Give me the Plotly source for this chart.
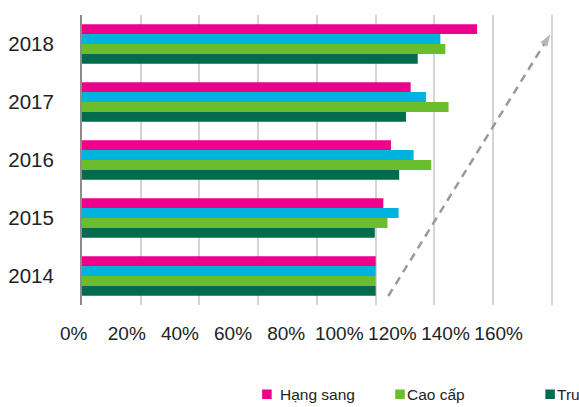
import plotly.graph_objects as go

years = ["2014", "2015", "2016", "2017", "2018"]
hang_sang = [100, 102.6, 105.2, 111.9, 134.5]
binh_dan = [100, 107.8, 112.9, 117.1, 122.0]
cao_cap = [100, 104.0, 118.9, 124.8, 123.7]
trung_cap = [100, 99.7, 108.0, 110.3, 114.3]
x_ticks = [0, 20, 40, 60, 80, 100, 120, 140, 160]
x_tick_labels = ["0%", "20%", "40%", "60%", "80%", "100%", "120%", "140%", "160%"]

C_PINK = "#EC008C"
C_CYAN = "#00B2DE"
C_GREEN = "#6ABD2B"
C_DARK = "#006B4D"

W, H = 579, 407
X0_PX = 81.7            # pixel of 0% gridline
SCALE = 470.0 / 160.0   # px per percent
X_MAX = 161.0
ML, MT, MB = 60, 15, 102
MR = W - (X0_PX + X_MAX * SCALE)
PW = W - ML - MR
PH = H - MT - MB

# tick label row (labels are spaced a little tighter than the grid in the original)
LBL0_PX = 73.7
LBL_SCALE = (498.3 - 73.7) / 160.0
x2_lo = (ML - LBL0_PX) / LBL_SCALE
x2_hi = x2_lo + PW / LBL_SCALE

FONT = "Liberation Sans, Arial, sans-serif"

fig = go.Figure()
# first trace is drawn lowest in each group
for name, vals, col in [("Trung cấp", trung_cap, C_DARK),
                        ("Cao cấp", cao_cap, C_GREEN),
                        ("Bình dân", binh_dan, C_CYAN),
                        ("Hạng sang", hang_sang, C_PINK)]:
    fig.add_trace(go.Bar(y=years, x=vals, name=name, orientation="h",
                         marker=dict(color=col, line=dict(width=0)),
                         showlegend=False))

# dashed trend arrow
arrow_x = [104.3, 159.4]
arrow_y = [-0.345, 4.17]
fig.add_trace(go.Scatter(x=arrow_x, y=arrow_y, mode="lines+markers",
                         line=dict(color="#999999", width=2.5, dash="8px,6px"),
                         marker=dict(symbol=["circle", "arrow"], size=[0, 13],
                                     angleref="previous", color="#999999",
                                     line=dict(width=0)),
                         showlegend=False, hoverinfo="skip", xaxis="x", yaxis="y2"))

# invisible carrier for the tick-label axis
fig.add_trace(go.Scatter(x=x_ticks, y=[2.0] * len(x_ticks), mode="markers",
                         marker=dict(opacity=0, size=1), showlegend=False,
                         hoverinfo="skip", xaxis="x2", yaxis="y3"))


def px_x(p):
    return (p - ML) / PW


def px_y(p):
    return (H - MB - p) / PH


legend_items = [("Hạng sang", C_PINK, 262, 278.5),
                ("Cao cấp", C_GREEN, 395, 406),
                ("Trung cấp", C_DARK, 545, 555.5)]
shapes = []
annotations = []
for label, col, sq_x, tx in legend_items:
    shapes.append(dict(type="rect", xref="paper", yref="paper",
                       x0=px_x(sq_x), x1=px_x(sq_x + 9.5),
                       y0=px_y(399), y1=px_y(389.5),
                       fillcolor=col, line=dict(width=0)))
    annotations.append(dict(xref="paper", yref="paper", x=px_x(tx), y=px_y(394.5),
                            xanchor="left", yanchor="middle", showarrow=False,
                            text=label, font=dict(family=FONT, size=15.5, color="#222222"),
                            borderpad=0))

fig.update_layout(
    width=W, height=H,
    margin=dict(l=ML, r=MR, t=MT, b=MB),
    paper_bgcolor="white", plot_bgcolor="rgba(0,0,0,0)",
    barmode="group", bargap=0.315, bargroupgap=0,
    font=dict(family=FONT, color="#222222"),
    shapes=shapes, annotations=annotations,
    xaxis=dict(domain=[(X0_PX - ML) / PW, 1], range=[0, X_MAX],
               tickmode="array", tickvals=x_ticks, showticklabels=False,
               showgrid=True, gridcolor="#D4D4D4", gridwidth=1.5,
               zeroline=False, showline=False, ticks="", automargin=False),
    xaxis2=dict(domain=[0, 1], range=[x2_lo, x2_hi], anchor="y3",
                tickmode="array", tickvals=x_ticks, ticktext=x_tick_labels,
                showgrid=False, zeroline=False, showline=False, ticks="",
                automargin=False, ticklabelstandoff=15,
                tickfont=dict(family=FONT, size=19, color="#222222")),
    yaxis=dict(type="category", categoryarray=years, range=[-0.5, 4.5],
               showgrid=False, zeroline=False, showline=True, automargin=False,
               linecolor="#8C8C8C", linewidth=1.5, ticks="",
               ticklabelstandoff=22,
               tickfont=dict(family=FONT, size=20.5, color="#222222")),
    yaxis2=dict(range=[-0.5, 4.5], overlaying="y", visible=False),
    yaxis3=dict(domain=[0, 1], range=[0, 4], anchor="x2", visible=False,
                showgrid=False, zeroline=False),
)

fig.write_html("out.html")
